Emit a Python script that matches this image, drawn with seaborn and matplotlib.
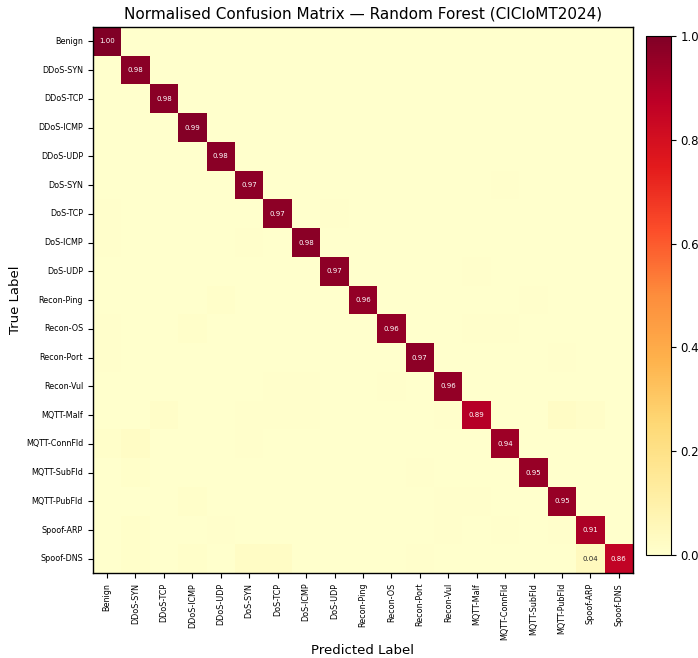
import numpy as np
import matplotlib
matplotlib.use('Agg')
import matplotlib.pyplot as plt
import seaborn as sns

# ----------------- data -----------------
classes = ['Benign', 'DDoS-SYN', 'DDoS-TCP', 'DDoS-ICMP', 'DDoS-UDP',
           'DoS-SYN', 'DoS-TCP', 'DoS-ICMP', 'DoS-UDP',
           'Recon-Ping', 'Recon-OS', 'Recon-Port', 'Recon-Vul',
           'MQTT-Malf', 'MQTT-ConnFld', 'MQTT-SubFld', 'MQTT-PubFld',
           'Spoof-ARP', 'Spoof-DNS']

diag_vals = [1.00, 0.98, 0.98, 0.99, 0.98, 0.97, 0.97, 0.98, 0.97,
             0.96, 0.96, 0.97, 0.96, 0.89, 0.94, 0.95, 0.95, 0.91, 0.86]

# off-diagonal confusions (true row, predicted col, share) read from the tints
off_rows = [5, 6, 6, 7, 7, 8, 9, 9, 10, 10, 10, 10, 11, 11, 12, 12, 12,
            13, 13, 13, 13, 13, 13, 13, 14, 14, 14, 15, 15, 16, 16, 16,
            17, 17, 17, 17, 17, 18, 18, 18, 18, 18, 18]
off_cols = [14, 0, 8, 0, 5, 13, 4, 15, 0, 3, 13, 14, 0, 16, 6, 7, 10,
            2, 5, 6, 7, 12, 16, 17, 0, 1, 5, 1, 11, 3, 12, 13,
            1, 4, 12, 14, 16, 1, 3, 5, 6, 11, 17]
off_vals = [0.005, 0.006, 0.006, 0.006, 0.006, 0.006, 0.008, 0.005, 0.006, 0.008, 0.005, 0.005,
            0.006, 0.005, 0.007, 0.007, 0.006,
            0.015, 0.007, 0.006, 0.006, 0.006, 0.02, 0.015, 0.008, 0.02, 0.007,
            0.01, 0.006, 0.008, 0.007, 0.006,
            0.01, 0.007, 0.007, 0.007, 0.007, 0.008, 0.008, 0.02, 0.02, 0.006, 0.04]

# ----------------- build matrix -----------------
n = len(classes)
cm = np.zeros((n, n))
cm[np.arange(n), np.arange(n)] = diag_vals
cm[off_rows, off_cols] = off_vals

# only annotate the noticeable cells
labels = np.where(cm >= 0.03, np.vectorize(lambda v: f'{v:.2f}')(cm), '')

# ----------------- plot -----------------
fig = plt.figure(figsize=(6.98, 6.58), dpi=100)
ax = fig.add_axes([0.133, 0.129, 0.774, 0.830])
cax = fig.add_axes([0.925, 0.157, 0.036, 0.788])

sns.heatmap(cm, ax=ax, cbar_ax=cax, cmap='YlOrRd', vmin=0, vmax=1,
            annot=labels, fmt='', annot_kws={'fontsize': 5},
            linewidths=0,
            xticklabels=classes, yticklabels=classes, square=False)

for s in ax.spines.values():
    s.set_visible(True)
    s.set_linewidth(1.0)
cbar = ax.collections[0].colorbar
cbar.outline.set_visible(True)
cbar.outline.set_linewidth(0.8)
cbar.set_ticks([0.0, 0.2, 0.4, 0.6, 0.8, 1.0])
cbar.ax.tick_params(labelsize=8.5)

ax.tick_params(axis='x', labelsize=5.8, rotation=90)
ax.tick_params(axis='y', labelsize=5.8, rotation=0)
ax.set_xlabel('Predicted Label', fontsize=9.5, labelpad=3)
ax.set_ylabel('True Label', fontsize=9.5, labelpad=3)
ax.set_title('Normalised Confusion Matrix — Random Forest (CICIoMT2024)', fontsize=11, pad=6)

plt.savefig('out.png', dpi=100)
plt.close()
